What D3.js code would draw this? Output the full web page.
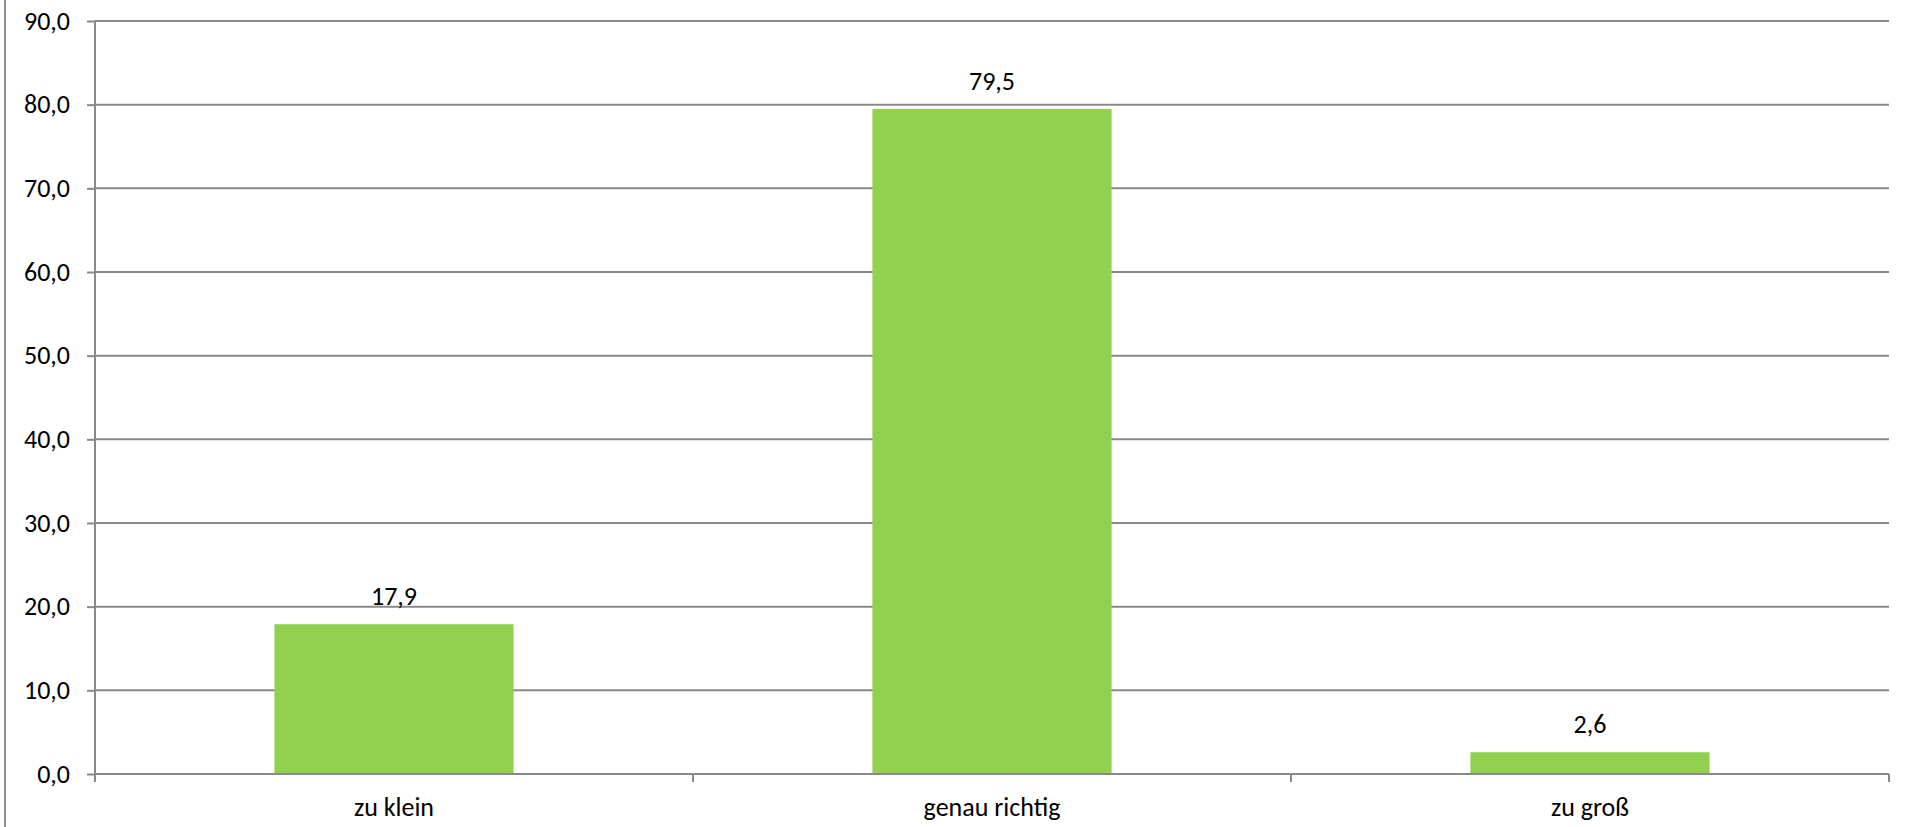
<!DOCTYPE html>
<html>
<head>
<meta charset="utf-8">
<script src="https://cdn.jsdelivr.net/npm/d3@7"></script>
<style>
  html, body { margin: 0; padding: 0; background: #ffffff; }
  svg { display: block; }
  text { font-family: Carlito, Calibri, Lato, "Open Sans", sans-serif; fill: #000; }
</style>
</head>
<body>
<svg id="chart" width="1914" height="827"></svg>
<script>
const categories = ["zu klein", "genau richtig", "zu groß"];
const values = [17.9, 79.5, 2.6];
const yTicks = [0, 10, 20, 30, 40, 50, 60, 70, 80, 90];

const W = 1914, H = 827;
const margin = { left: 95, right: 25, top: 21, bottom: 53 };
const svg = d3.select("#chart");
const fmt = v => v.toFixed(1).replace(".", ",");
const numSize = 26, catSize = 26;

const x = d3.scaleBand()
  .domain(categories)
  .range([margin.left, W - margin.right])
  .paddingInner(0.6)
  .paddingOuter(0.3);

const y = d3.scaleLinear()
  .domain([0, 90])
  .range([H - margin.bottom, margin.top]);

const gridColor = "#898989";

// outer chart-area border (left edge visible)
svg.append("line")
  .attr("x1", 5).attr("x2", 5).attr("y1", 0).attr("y2", H)
  .attr("stroke", "#8f8f8f").attr("stroke-width", 2);

// gridlines
svg.append("g")
  .selectAll("line")
  .data(yTicks.filter(t => t > 0))
  .join("line")
  .attr("x1", margin.left).attr("x2", W - margin.right)
  .attr("y1", d => y(d)).attr("y2", d => y(d))
  .attr("stroke", gridColor).attr("stroke-width", 2);

// bars
svg.append("g")
  .selectAll("rect")
  .data(values)
  .join("rect")
  .attr("x", (d, i) => x(categories[i]))
  .attr("width", x.bandwidth())
  .attr("y", d => y(d))
  .attr("height", d => y(0) - y(d))
  .attr("fill", "#92D050");

// value labels
svg.append("g")
  .selectAll("text")
  .data(values)
  .join("text")
  .attr("x", (d, i) => x(categories[i]) + x.bandwidth() / 2)
  .attr("y", d => y(d) - 19)
  .attr("text-anchor", "middle")
  .attr("font-size", numSize)
  .text(d => fmt(d));

// y axis
const yAxis = d3.axisLeft(y)
  .tickValues(yTicks)
  .tickFormat(fmt)
  .tickSize(8)
  .tickPadding(17);
const gy = svg.append("g")
  .attr("transform", `translate(${margin.left},0)`)
  .call(yAxis);
gy.select(".domain").remove();
gy.append("line")
  .attr("x1", 0).attr("x2", 0)
  .attr("y1", y(90)).attr("y2", y(0) + 8)
  .attr("stroke", gridColor).attr("stroke-width", 2);
gy.selectAll(".tick line").attr("stroke", gridColor).attr("stroke-width", 2);
gy.selectAll(".tick text").attr("font-size", numSize).attr("fill", "#000")
  .style("font-family", "Carlito, Calibri, Lato, 'Open Sans', sans-serif");

// x axis
const xAxis = d3.axisBottom(x).tickSize(0).tickPadding(0);
const gx = svg.append("g")
  .attr("transform", `translate(0,${y(0)})`)
  .call(xAxis);
gx.select(".domain").remove();
gx.append("line")
  .attr("x1", margin.left).attr("x2", W - margin.right)
  .attr("y1", 0).attr("y2", 0)
  .attr("stroke", gridColor).attr("stroke-width", 2);
// category separator ticks
const step = x.step();
const boundaries = d3.range(categories.length + 1).map(i => margin.left + i * step);
gx.selectAll(".sep")
  .data(boundaries)
  .join("line")
  .attr("class", "sep")
  .attr("x1", d => d).attr("x2", d => d)
  .attr("y1", 0).attr("y2", 8)
  .attr("stroke", gridColor).attr("stroke-width", 2);
gx.selectAll(".tick text")
  .attr("y", 42)
  .attr("dy", 0)
  .attr("font-size", catSize)
  .attr("fill", "#000")
  .style("font-family", "Carlito, Calibri, Lato, 'Open Sans', sans-serif");
</script>
</body>
</html>
